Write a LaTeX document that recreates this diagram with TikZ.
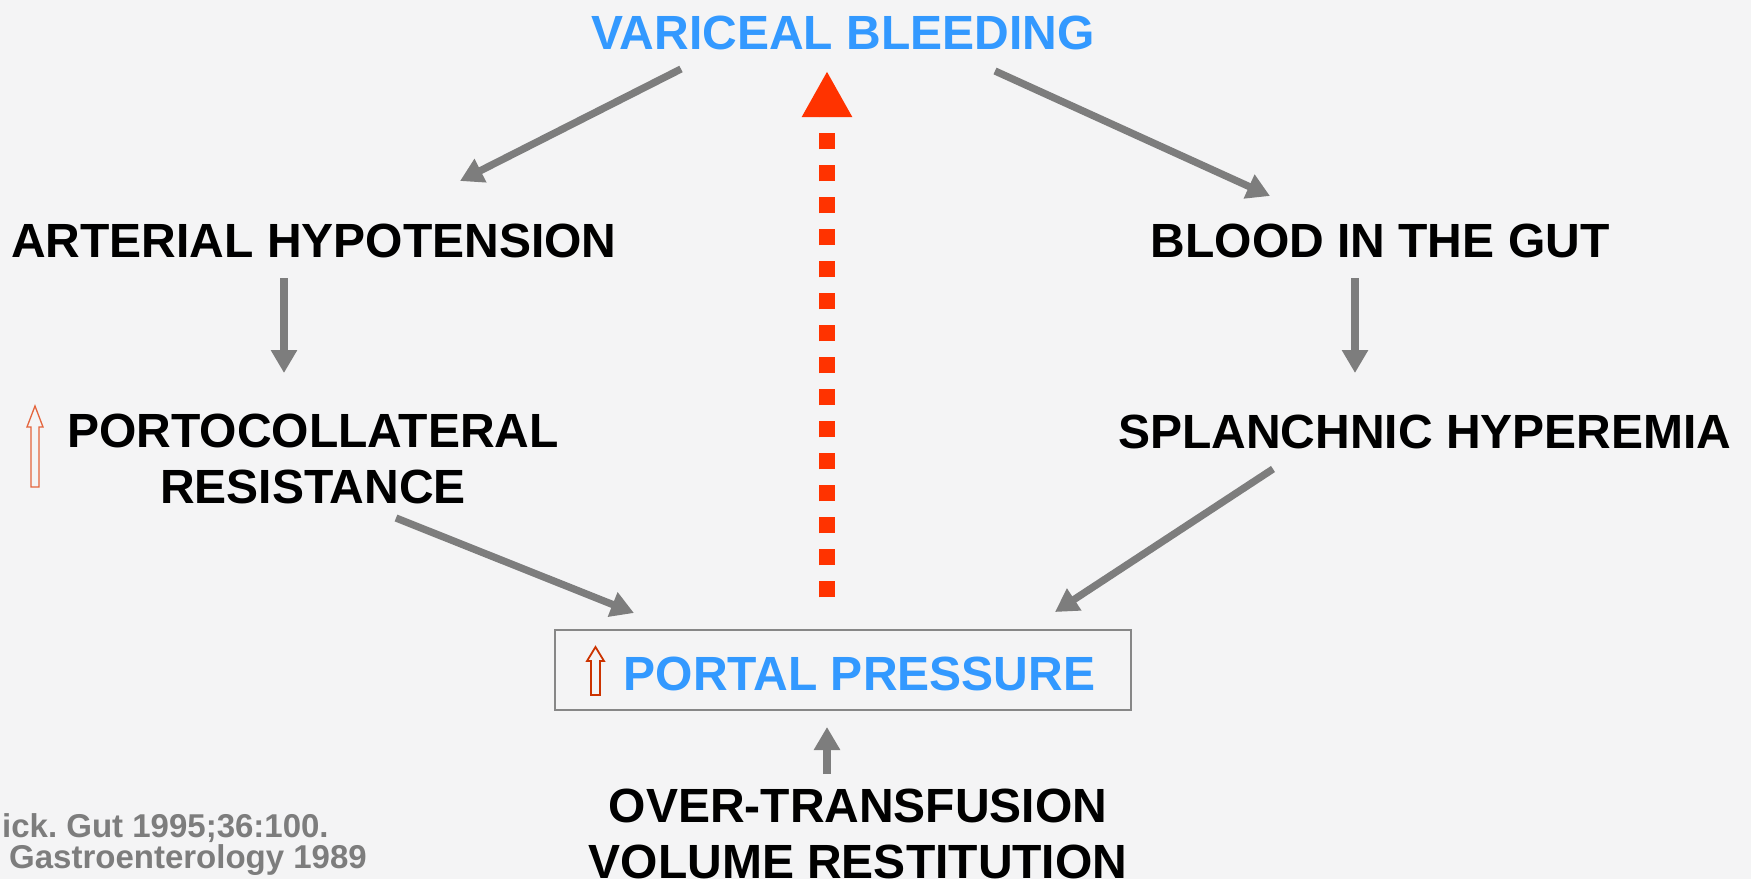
\documentclass[tikz,border=0pt]{standalone}
\usepackage{fontspec}
\setmainfont{Liberation Sans}
\usetikzlibrary{arrows.meta}
\definecolor{bgc}{RGB}{244,244,245}
\definecolor{vblue}{RGB}{51,153,255}
\definecolor{vred}{RGB}{255,51,0}
\definecolor{agray}{RGB}{125,125,125}
\definecolor{hredA}{RGB}{228,100,60}
\definecolor{hredB}{RGB}{204,51,0}
\definecolor{cgray}{RGB}{125,125,125}
\definecolor{boxgray}{RGB}{135,135,135}
\begin{document}
\begin{tikzpicture}[x=1pt,y=-1pt,
  lbl/.style={inner sep=0pt, anchor=base, align=center, font=\fontsize{48}{56}\selectfont\bfseries},
  cite/.style={inner sep=0pt, anchor=base west, text=cgray, font=\fontsize{33}{36}\selectfont\bfseries},
  garrow/.style={draw=agray, line width=7.3pt, -{Triangle[length=23pt,width=25pt]}},
  rarrow/.style={draw=vred, line width=16pt, dash pattern=on 16pt off 16pt, -{Triangle[length=46pt,width=47pt]}},
  hollowA/.style={draw=hredA, line width=1.3pt, line join=miter},
  hollowB/.style={draw=hredB, line width=1.8pt, line join=miter}
]
\fill[bgc] (0,0) rectangle (1751,879);
\useasboundingbox (0,0) rectangle (1751,879);

% nodes
\node[lbl, text=vblue] (vb) at (843,49) {VARICEAL BLEEDING};
\node[lbl] (ah) at (314,257) {ARTERIAL HYPOTENSION};
\node[lbl] (bg) at (1380,257) {BLOOD IN THE GUT};
\node[lbl] (pr) at (313,503) {PORTOCOLLATERAL\\RESISTANCE};
\node[lbl] (sh) at (1425,448) {SPLANCHNIC HYPEREMIA};
\node[draw=boxgray, line width=1.5pt, minimum width=576pt, minimum height=80pt, inner sep=0pt] (pp) at (843,670) {};
\node[lbl, text=vblue] (ppt) at (859.5,690) {PORTAL PRESSURE};
\node[lbl] (ot) at (858,878) {OVER-TRANSFUSION\\VOLUME RESTITUTION};
\node[cite] (c1) at (2,837) {ick.\ Gut 1995;36:100.};
\node[cite] (c2) at (9,868) {Gastroenterology 1989};

% hollow up arrows
\draw[hollowA] (35,406) -- (43,427) -- (39,427) -- (39,487) -- (31,487) -- (31,427) -- (27,427) -- cycle;
\draw[hollowB] (595.5,647) -- (604,661) -- (600,661) -- (600,695) -- (591,695) -- (591,661) -- (587,661) -- cycle;

% connector end points
\coordinate (a1s) at (681,69);  \coordinate (a1e) at (460,181);
\coordinate (a2s) at (995,71);  \coordinate (a2e) at (1270,196);
\coordinate (a3s) at (396,518); \coordinate (a3e) at (634,613);
\coordinate (a4s) at (1273,469); \coordinate (a4e) at (1055,612);
\coordinate (v1s) at (284,278); \coordinate (v1e) at (284,373);
\coordinate (v2s) at (1355,278); \coordinate (v2e) at (1355,373);
\coordinate (v3s) at (827,774); \coordinate (v3e) at (827,727);
\coordinate (rx) at (827,0);

% gray arrows
\draw[garrow] (a1s) -- (a1e);
\draw[garrow] (a2s) -- (a2e);
\draw[garrow] (a3s) -- (a3e);
\draw[garrow] (a4s) -- (a4e);
\draw[garrow] (v1s) -- (v1e);
\draw[garrow] (v2s) -- (v2e);
\draw[garrow] (v3s) -- (v3e);

% red dashed arrow from portal pressure up to variceal bleeding
\draw[rarrow, shorten <=32pt, shorten >=22pt] (pp.north -| rx) -- (vb.base -| rx);
\end{tikzpicture}
\end{document}
